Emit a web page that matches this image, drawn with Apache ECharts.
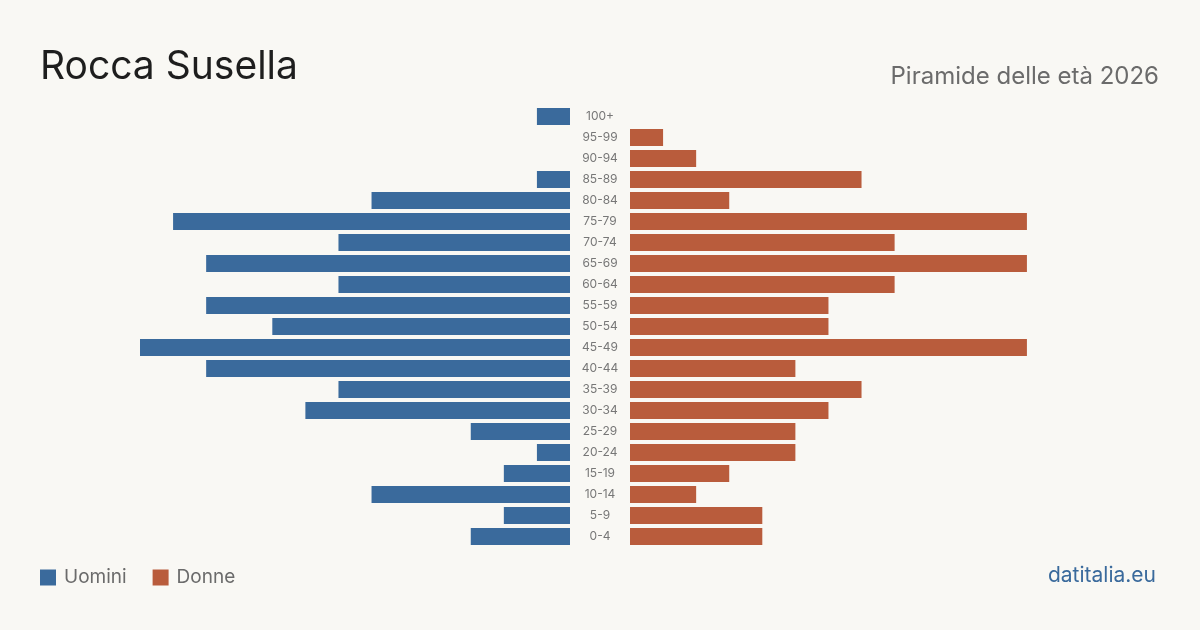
<!DOCTYPE html>
<html>
<head>
<meta charset="utf-8">
<script src="https://cdn.jsdelivr.net/npm/echarts@6/dist/echarts.min.js"></script>
<style>
  html, body { margin: 0; padding: 0; background: #f9f8f4; }
  #chart { width: 1200px; height: 630px; }
</style>
</head>
<body>
<div id="chart"></div>
<script>
// age classes, bottom to top
const ageClasses = ['0-4', '5-9', '10-14', '15-19', '20-24', '25-29', '30-34', '35-39', '40-44', '45-49',
  '50-54', '55-59', '60-64', '65-69', '70-74', '75-79', '80-84', '85-89', '90-94', '95-99', '100+']
const males = [3, 2, 6, 2, 1, 3, 8, 7, 11, 13, 9, 11, 7, 11, 7, 12, 6, 1, 0, 0, 1]
const females = [4, 4, 2, 3, 5, 5, 6, 7, 5, 12, 6, 6, 8, 12, 8, 12, 3, 7, 2, 1, 0]

const blue = '#3a6a9c'
const red = '#b95c3c'
const font = 'Inter, "Noto Sans", sans-serif'

const chart = echarts.init(document.getElementById('chart'))

const option = {
  backgroundColor: '#f9f8f4',
  animation: false,
  textStyle: { fontFamily: font },
  title: [
    {
      text: 'Rocca Susella',
      left: 40,
      top: 48,
      padding: 0,
      textStyle: { fontSize: 39, fontWeight: 'normal', color: '#1e1e1e', fontFamily: font }
    },
    {
      text: 'Piramide delle età 2026',
      right: 41,
      top: 65,
      padding: 0,
      textStyle: { fontSize: 24, fontWeight: 'normal', color: '#6b6b6b', fontFamily: font }
    },
    {
      text: 'datitalia.eu',
      right: 44,
      top: 565,
      padding: 0,
      textStyle: { fontSize: 21, fontWeight: 'normal', color: blue, fontFamily: font }
    }
  ],
  legend: {
    left: 40,
    top: 568,
    padding: 0,
    icon: 'rect',
    itemWidth: 16,
    itemHeight: 16,
    itemGap: 26,
    textStyle: { fontSize: 19, color: '#6b6b6b', fontFamily: font, padding: [0, 0, 0, 3] },
    data: ['Uomini', 'Donne']
  },
  grid: [
    { left: 140, right: 630, top: 106, height: 441 },
    { left: 630, right: 140, top: 106, height: 441 }
  ],
  xAxis: [
    { type: 'value', gridIndex: 0, inverse: true, min: 0, max: 13, show: false },
    { type: 'value', gridIndex: 1, min: 0, max: 13, show: false }
  ],
  yAxis: [
    {
      type: 'category',
      gridIndex: 0,
      position: 'right',
      data: ageClasses,
      axisLine: { show: false },
      axisTick: { show: false },
      axisLabel: { align: 'center', margin: 30, fontSize: 12, color: '#777', fontFamily: font, padding: [2, 0, 0, 0] }
    },
    {
      type: 'category',
      gridIndex: 1,
      data: ageClasses,
      axisLine: { show: false },
      axisTick: { show: false },
      axisLabel: { show: false }
    }
  ],
  series: [
    {
      name: 'Uomini',
      type: 'bar',
      xAxisIndex: 0,
      yAxisIndex: 0,
      data: males,
      barCategoryGap: '19%',
      itemStyle: { color: blue }
    },
    {
      name: 'Donne',
      type: 'bar',
      xAxisIndex: 1,
      yAxisIndex: 1,
      data: females,
      barCategoryGap: '19%',
      itemStyle: { color: red }
    }
  ]
}

chart.setOption(option)
</script>
</body>
</html>
